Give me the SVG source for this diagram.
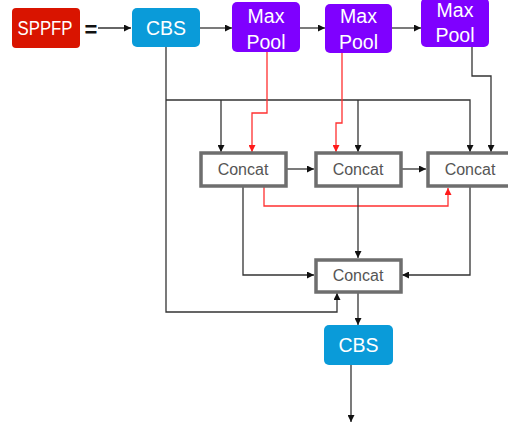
<svg xmlns="http://www.w3.org/2000/svg" width="508" height="425" viewBox="0 0 508 425">
  <defs>
    <marker id="ah" viewBox="0 0 10 10" refX="10" refY="5" markerWidth="7" markerHeight="7" orient="auto" markerUnits="userSpaceOnUse">
      <path d="M0,0 L10,5 L0,10 z" fill="#111"/>
    </marker>
    <marker id="ahr" viewBox="0 0 10 10" refX="10" refY="5" markerWidth="7" markerHeight="7" orient="auto" markerUnits="userSpaceOnUse">
      <path d="M0,0 L10,5 L0,10 z" fill="#ff1a1a"/>
    </marker>
    <style>
      .lbl { font-family: "Liberation Sans", Arial, sans-serif; font-size: 19.5px; fill: #fff; text-anchor: middle; dominant-baseline: central; }
      .lbl.narrow { font-size: 20px; }
      .red { fill: #d91400; }
      .cbs { fill: #0a9bd9; }
      .mp { fill: #7f00ff; }
      .cat { fill: #fff; stroke: #6e6e6e; stroke-width: 3.5; }
      .catt { font-family: "Liberation Sans", Arial, sans-serif; font-size: 16px; fill: #555; text-anchor: middle; dominant-baseline: central; }
      .ln { fill: none; stroke: #333; stroke-width: 1.3; }
      .lnr { fill: none; stroke: #ff3030; stroke-width: 1.3; }
    </style>
  </defs>
  <rect width="508" height="425" fill="#fff"/>

  <!-- connectors -->
  <g id="connectors">
    <path class="ln" d="M98,28 H131" marker-end="url(#ah)"/>
    <path class="ln" d="M200,28 H232" marker-end="url(#ah)"/>
    <path class="ln" d="M300,28 H325" marker-end="url(#ah)"/>
    <path class="ln" d="M392,28 H421" marker-end="url(#ah)"/>

    <!-- CBS output fan-out -->
    <path class="ln" d="M166,47 V312 H337 V293" marker-end="url(#ah)"/>
    <path class="ln" d="M166,100 H470 V152" marker-end="url(#ah)"/>
    <path class="ln" d="M221,100 V152" marker-end="url(#ah)"/>
    <path class="ln" d="M358,100 V152" marker-end="url(#ah)"/>

    <!-- max pool outputs -->
    <path class="lnr" d="M267,52 V113 H252 V152" marker-end="url(#ahr)"/>
    <path class="lnr" d="M342,53 V123 H336 V152" marker-end="url(#ahr)"/>
    <path class="ln" d="M472,47 V76 H491 V152" marker-end="url(#ah)"/>

    <!-- concat chain -->
    <path class="ln" d="M287,169 H314" marker-end="url(#ah)"/>
    <path class="ln" d="M402,169 H426" marker-end="url(#ah)"/>
    <path class="lnr" d="M264,187 V206 H448 V188" marker-end="url(#ahr)"/>

    <!-- into final concat -->
    <path class="ln" d="M243,187 V275 H314" marker-end="url(#ah)"/>
    <path class="ln" d="M358,187 V258" marker-end="url(#ah)"/>
    <path class="ln" d="M470,187 V275 H402" marker-end="url(#ah)"/>
    <path class="ln" d="M358,293 V325" marker-end="url(#ah)"/>
    <path class="ln" d="M351,365 V422" marker-end="url(#ah)"/>
  </g>

  <g id="sppfp">
    <rect class="red" x="12" y="8" width="68" height="40" rx="4"/>
    <text class="lbl narrow" x="45" y="28" textLength="55" lengthAdjust="spacingAndGlyphs">SPPFP</text>
  </g>
  <text x="91" y="29" font-family="Liberation Sans, Arial, sans-serif" font-size="22" font-weight="bold" fill="#111" text-anchor="middle" dominant-baseline="central">=</text>

  <g id="cbs1">
    <rect class="cbs" x="132" y="8" width="68" height="39" rx="5"/>
    <text class="lbl" x="166" y="28">CBS</text>
  </g>

  <g id="maxpool1">
    <rect class="mp" x="232" y="2" width="68" height="50" rx="5"/>
    <text class="lbl" x="266" y="15.5">Max</text>
    <text class="lbl" x="266" y="41.5">Pool</text>
  </g>

  <g id="maxpool2">
    <rect class="mp" x="325" y="4" width="67" height="49" rx="5"/>
    <text class="lbl" x="358.5" y="16">Max</text>
    <text class="lbl" x="358.5" y="42">Pool</text>
  </g>

  <g id="maxpool3">
    <rect class="mp" x="421" y="-2" width="68" height="49" rx="5"/>
    <text class="lbl" x="455" y="10">Max</text>
    <text class="lbl" x="455" y="35">Pool</text>
  </g>

  <g id="concat1">
    <rect class="cat" x="201" y="153" width="85" height="33"/>
    <text class="catt" x="243" y="169.5">Concat</text>
  </g>

  <g id="concat2">
    <rect class="cat" x="316" y="153" width="85" height="33"/>
    <text class="catt" x="358" y="169.5">Concat</text>
  </g>

  <g id="concat3">
    <rect class="cat" x="428" y="153" width="85" height="33"/>
    <text class="catt" x="470" y="169.5">Concat</text>
  </g>

  <g id="concat4">
    <rect class="cat" x="316" y="260" width="85" height="32"/>
    <text class="catt" x="358" y="275">Concat</text>
  </g>

  <g id="cbs2">
    <rect class="cbs" x="324" y="325" width="69" height="40" rx="5"/>
    <text class="lbl" x="358.5" y="345">CBS</text>
  </g>
</svg>
